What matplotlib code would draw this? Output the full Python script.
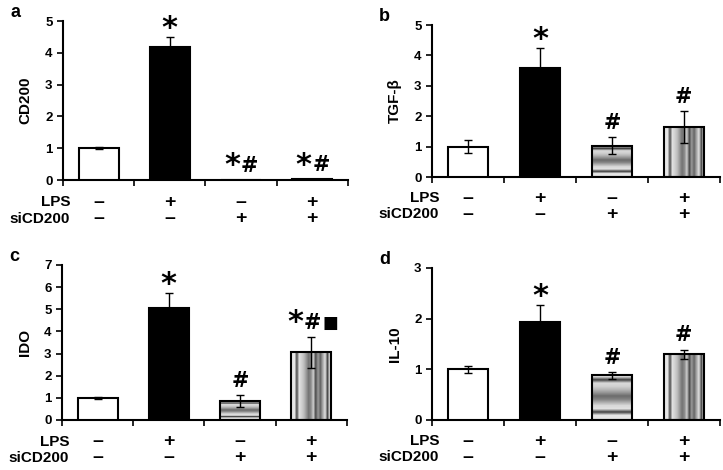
import matplotlib
matplotlib.use("Agg")
import matplotlib.pyplot as plt
import numpy as np

plt.rcParams['font.family'] = ['Liberation Sans', 'DejaVu Sans']
plt.rcParams['font.weight'] = 'bold'

# data
groups = ['ctrl', 'LPS', 'siCD200', 'LPS+siCD200']
lps_signs = ['\u2013', '+', '\u2013', '+']
si_signs = ['\u2013', '\u2013', '+', '+']

cd200_mean = [1.0, 4.2, 0.0, 0.03]
cd200_err = [0.03, 0.3, 0.0, 0.0]
cd200_marks = ['', '*', '*#', '*#']

tgfb_mean = [1.0, 3.6, 1.03, 1.65]
tgfb_err = [0.22, 0.65, 0.28, 0.52]
tgfb_marks = ['', '*', '#', '#']

ido_mean = [1.0, 5.05, 0.85, 3.05]
ido_err = [0.05, 0.7, 0.27, 0.7]
ido_marks = ['', '*', '#', '*#\u25a0']

il10_mean = [1.0, 1.93, 0.88, 1.3]
il10_err = [0.07, 0.33, 0.07, 0.09]
il10_marks = ['', '*', '#', '#']

# grey stripe profiles for the patterned bars
hstripe = np.array([0.85, 0.25, 0.85, 0.82, 0.72, 0.58, 0.42, 0.5, 0.68,
                    0.85, 0.88, 0.25, 0.9, 0.9])
vstripe = np.array([0.9, 0.9, 0.3, 0.88, 0.82, 0.74, 0.6, 0.45, 0.55, 0.8,
                    0.3, 0.6, 0.4, 0.65, 0.88, 0.3, 0.88])

# glyph styling: (fontsize, baseline offset in points)
glyph_style = {'*': (22, 4), '#': (15, 6), '\u25a0': (12, 6.5)}

fig = plt.figure(figsize=(7.23, 4.70), dpi=100)

panels = [
    ('a', 'CD200', cd200_mean, cd200_err, cd200_marks, 5, [0.0871, 0.617, 0.394, 0.338]),
    ('b', 'TGF-\u03b2', tgfb_mean, tgfb_err, tgfb_marks, 5, [0.5975, 0.6234, 0.398, 0.3234]),
    ('c', 'IDO', ido_mean, ido_err, ido_marks, 7, [0.0858, 0.1064, 0.394, 0.33]),
    ('d', 'IL-10', il10_mean, il10_err, il10_marks, 3, [0.5975, 0.1064, 0.398, 0.3234]),
]

x = np.arange(len(groups)) + 0.5
width = 0.56

for letter, ylab, mean, err, marks, ymax, pos in panels:
    ax = fig.add_axes(pos)
    bars = ax.bar(x, mean, width, color=['white', 'black', 'none', 'none'],
                  edgecolor='black', linewidth=1.5, zorder=3)
    for i, prof in [(2, hstripe[:, None]), (3, vstripe[None, :])]:
        r = bars[i]
        if r.get_height() > 0.02:
            ax.imshow(prof, cmap='gray', vmin=0, vmax=1, aspect='auto',
                      extent=[r.get_x(), r.get_x() + r.get_width(), 0, r.get_height()],
                      interpolation='bilinear', zorder=2)
    ax.errorbar(x, mean, yerr=err, fmt='none', ecolor='black', elinewidth=1,
                capsize=3, capthick=1, zorder=4)
    for xi, m, e, s in zip(x, mean, err, marks):
        if not s:
            continue
        if s == '*':
            ax.annotate(s, (xi, m + e), xytext=(0, 0), textcoords='offset points',
                        ha='center', va='baseline', fontsize=22, fontweight='bold',
                        family=['DejaVu Sans'])
            continue
        # several symbols side by side, about 12.5 pt apart
        n = len(s)
        for k, ch in enumerate(s):
            fs, dy = glyph_style[ch]
            dx = (k - (n - 1) / 2) * 12.5 + (1 if n == 3 else 0)
            ax.annotate(ch, (xi, m + e), xytext=(dx, dy), textcoords='offset points',
                        ha='center', va='baseline', fontsize=fs, fontweight='bold',
                        family=['DejaVu Sans'])
    ax.set_xlim(0, 4)
    ax.set_ylim(0, ymax)
    ax.set_xticks(range(5))
    ax.set_xticklabels([])
    ax.set_yticks(range(ymax + 1))
    ax.tick_params(axis='y', labelsize=9.5, length=4, width=1.2)
    ax.tick_params(axis='x', length=4, width=1.2)
    for lab in ax.get_yticklabels():
        lab.set_fontweight('bold')
    ax.set_ylabel(ylab, fontsize=11, fontweight='bold', labelpad=9)
    for sp in ['top', 'right']:
        ax.spines[sp].set_visible(False)
    for sp in ['left', 'bottom']:
        ax.spines[sp].set_linewidth(1.5)
    trans = ax.get_xaxis_transform()
    ax.text(0.1, -0.14, 'LPS', transform=trans, ha='right', va='center',
            fontsize=11, fontweight='bold')
    ax.text(0.1, -0.245, 'siCD200', transform=trans, ha='right', va='center',
            fontsize=11, fontweight='bold')
    for xi, a, b in zip(x, lps_signs, si_signs):
        ax.text(xi, -0.14, a, transform=trans, ha='center', va='center',
                fontsize=14, fontweight='bold')
        ax.text(xi, -0.245, b, transform=trans, ha='center', va='center',
                fontsize=14, fontweight='bold')
    fig.text(pos[0] - 0.073, pos[1] + pos[3] + 0.018, letter, fontsize=13,
             fontweight='bold', ha='left', va='center')

fig.savefig('out.png', dpi=100)
